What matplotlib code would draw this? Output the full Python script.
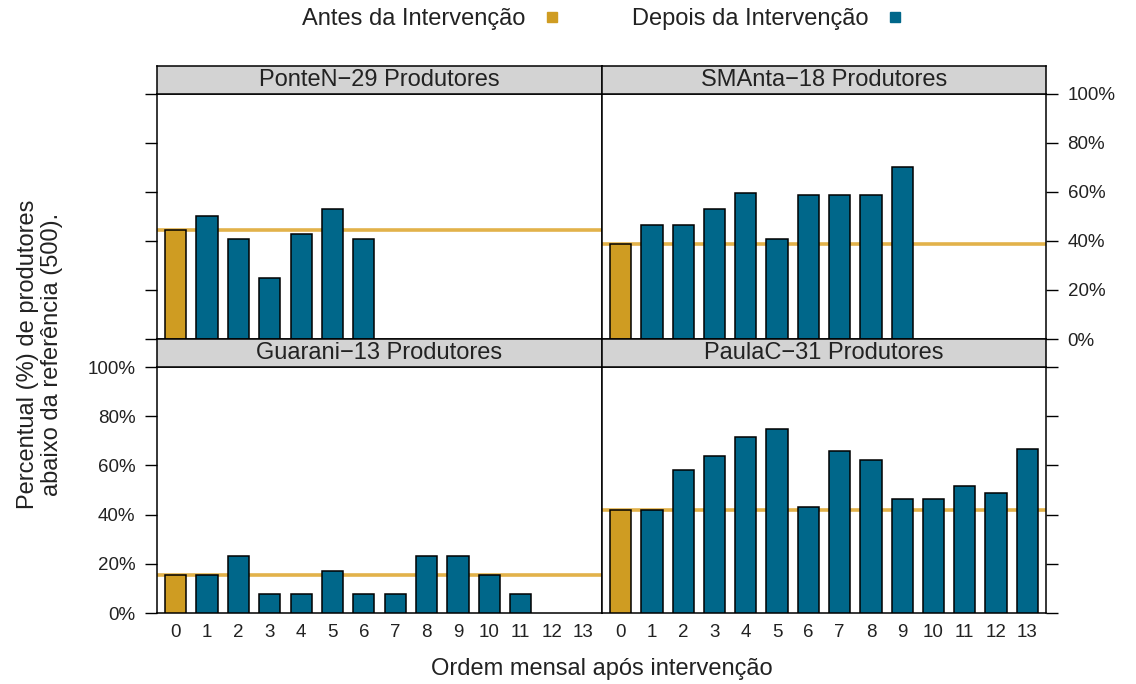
import numpy as np
import matplotlib.pyplot as plt
from matplotlib.lines import Line2D

plt.rcParams['font.family'] = ['Liberation Sans', 'DejaVu Sans']

meses = list(range(14))

# Percentual de produtores abaixo da referência por mês (mês 0 = antes da intervenção)
ponte_n = [0.445, 0.502, 0.407, 0.250, 0.430, 0.531, 0.407]
sm_anta = [0.389, 0.465, 0.465, 0.531, 0.595, 0.407, 0.587, 0.587, 0.587, 0.703]
guarani = [0.154, 0.154, 0.231, 0.077, 0.077, 0.170, 0.077, 0.077, 0.231, 0.231, 0.154, 0.077]
paula_c = [0.419, 0.419, 0.581, 0.637, 0.717, 0.746, 0.429, 0.657, 0.623, 0.464, 0.464, 0.516, 0.486, 0.667]

titulos = ['PonteN\u221229 Produtores', 'SMAnta\u221218 Produtores',
           'Guarani\u221213 Produtores', 'PaulaC\u221231 Produtores']
ticks_y = [0, 0.2, 0.4, 0.6, 0.8, 1.0]
rotulos_y = ['0%', '20%', '40%', '60%', '80%', '100%']

cor_antes = '#CF9C22'
cor_depois = '#00678A'
cor_linha = '#E2B24A'
cor_texto = '#222222'

W, H = 1136, 684
fig = plt.figure(figsize=(W / 100, H / 100), dpi=100)


def caixa(x0, y0, x1, y1):
    # converte pixels (origem no topo) para fração da figura
    return [x0 / W, 1 - y1 / H, (x1 - x0) / W, (y1 - y0) / H]


# valores, título, posição, lado do eixo y, mostra rótulos y, mostra rótulos x
paineis = [
    (ponte_n, titulos[0], (157, 94, 602, 339), 'left', False, False),
    (sm_anta, titulos[1], (602, 94, 1046, 339), 'right', True, False),
    (guarani, titulos[2], (157, 367, 602, 613), 'left', True, True),
    (paula_c, titulos[3], (602, 367, 1046, 613), 'right', False, True),
]

for valores, titulo, pos, lado, mostra_y, mostra_x in paineis:
    ax = fig.add_axes(caixa(*pos))
    x = np.arange(len(valores))
    cores = [cor_antes] + [cor_depois] * (len(valores) - 1)
    ax.bar(x, valores, width=0.68, color=cores, edgecolor='black', linewidth=1.1, zorder=3)
    # linha de referência = valor antes da intervenção
    ax.axhline(valores[0], color=cor_linha, lw=2.6, zorder=2)

    ax.set_xlim(-0.6, 13.6)
    ax.set_ylim(0, 1)
    ax.set_xticks(meses)
    ax.set_xticklabels([str(m) for m in meses])
    ax.tick_params(axis='x', length=0, pad=8, labelsize=13.5, labelcolor=cor_texto,
                   labelbottom=mostra_x)

    ax.set_yticks(ticks_y)
    ax.set_yticklabels(rotulos_y)
    ax.yaxis.set_ticks_position(lado)
    ax.tick_params(axis='y', direction='out', length=8.5, width=1, pad=7,
                   labelsize=13.5, labelcolor=cor_texto,
                   labelleft=(lado == 'left' and mostra_y),
                   labelright=(lado == 'right' and mostra_y))
    for s in ax.spines.values():
        s.set_linewidth(1.1)

    # faixa cinza com o nome da localidade
    st = fig.add_axes(caixa(pos[0], pos[1] - 28, pos[2], pos[1]))
    st.set_facecolor('#D3D3D3')
    st.set_xticks([])
    st.set_yticks([])
    for s in st.spines.values():
        s.set_linewidth(1.1)
    st.text(0.5, 0.5, titulo, ha='center', va='center', fontsize=17,
            color=cor_texto, transform=st.transAxes)

fig.text(602 / W, 1 - 669 / H, 'Ordem mensal após intervenção', ha='center', va='center',
         fontsize=17, color=cor_texto)
fig.text(40 / W, 1 - 354 / H, 'Percentual (%) de produtores\nabaixo da referência (500).',
         rotation=90, ha='center', va='center', fontsize=17, color=cor_texto,
         linespacing=1.15, multialignment='center')

handles = [Line2D([], [], marker='s', ls='none', color=cor_antes, markersize=7),
           Line2D([], [], marker='s', ls='none', color=cor_depois, markersize=7)]
fig.legend(handles, ['Antes da Intervenção', 'Depois da Intervenção'], ncol=2,
           loc='center', bbox_to_anchor=(0.5295, 0.972), frameon=False,
           markerfirst=False, fontsize=17, handlelength=0.5, handletextpad=0.9,
           columnspacing=3.1, labelcolor=cor_texto)

fig.savefig('out.png', dpi=100)
